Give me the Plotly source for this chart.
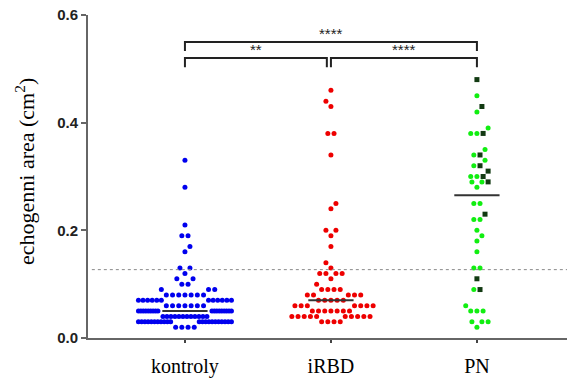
import numpy as np
import plotly.graph_objects as go

# ---------------- data ----------------
categories = ["kontroly", "iRBD", "PN"]

kontroly_levels = [0.02, 0.03, 0.04, 0.05, 0.06, 0.07, 0.08, 0.09, 0.10, 0.11,
                   0.12, 0.13, 0.16, 0.17, 0.19, 0.21, 0.28, 0.33]
kontroly_counts = [4, 22, 12, 18, 7, 12, 7, 3, 2, 2,
                   1, 2, 1, 1, 2, 1, 1, 1]

irbd_levels = [0.03, 0.04, 0.05, 0.06, 0.07, 0.08, 0.09, 0.10, 0.11, 0.12,
               0.13, 0.14, 0.17, 0.19, 0.20, 0.24, 0.25, 0.34, 0.38, 0.43,
               0.44, 0.46]
irbd_counts = [4, 10, 7, 7, 5, 5, 4, 1, 1, 4,
               1, 1, 1, 1, 2, 1, 1, 1, 2, 1,
               1, 1]

pn_light = [0.02, 0.03, 0.03, 0.03, 0.05, 0.05, 0.05, 0.06, 0.09, 0.13,
            0.13, 0.16, 0.18, 0.19, 0.20, 0.22, 0.22, 0.25, 0.25, 0.28,
            0.29, 0.29, 0.30, 0.30, 0.32, 0.33, 0.34, 0.35, 0.38, 0.38,
            0.39, 0.42, 0.45]
pn_dark = [0.09, 0.11, 0.23, 0.29, 0.30, 0.31, 0.32, 0.34, 0.38, 0.43, 0.48]

cutoff = 0.127
comparisons = [(0, 2, "****"), (0, 1, "**"), (1, 2, "****")]

y_ticks = [0.0, 0.2, 0.4, 0.6]
y_ticklabels = ["0.0", "0.2", "0.4", "0.6"]

# ---------------- layout constants ----------------
W, H = 569, 381
ML, MR, MT, MB = 88, 2, 15, 43
XR = [-0.664, 2.617]
YR = [0.0, 0.6]
px_per_x = (W - ML - MR) / (XR[1] - XR[0])

kontroly = np.repeat(kontroly_levels, kontroly_counts)
irbd = np.repeat(irbd_levels, irbd_counts)
pn_all = np.array(pn_light + pn_dark)


def swarm(values, step=0.01, dot=6.2, maxhalf=46.5, gap=5.0, dense=4.0):
    """GraphPad-like column scatter: rows alternate centred / split."""
    vals = np.round(np.asarray(values, dtype=float), 2)
    offs = np.zeros(len(vals))
    prev_lv, prev_mode, prev_half = None, None, 0.0
    for lv in sorted(set(vals)):
        idx = np.where(vals == lv)[0]
        n = len(idx)
        adjacent = prev_lv is not None and abs(lv - prev_lv - step) < 1e-6
        mode = "S" if (adjacent and prev_mode == "C") else "C"
        if mode == "C":
            s = dot if n <= 8 else dense
            if n > 1:
                s = min(s, 2 * maxhalf / (n - 1))
            pos = (np.arange(n) - (n - 1) / 2) * s
            half = (n - 1) / 2 * s
        else:
            inner = prev_half + gap
            if n == 1:
                sign = 1 if int(round(lv * 100)) % 2 else -1
                pos = np.array([sign * inner])
            else:
                nl = n // 2
                nr = n - nl

                def side(k):
                    s = dot
                    if k > 1:
                        s = min(dot, (maxhalf - inner) / (k - 1))
                    return inner + np.arange(k) * s
                pos = np.concatenate([-side(nl)[::-1], side(nr)])
            half = float(np.abs(pos).max())
        offs[idx] = pos
        prev_lv, prev_mode, prev_half = lv, mode, half
    return offs / px_per_x


fig = go.Figure()

# cutoff dotted line
fig.add_shape(type="line", xref="paper", yref="y", x0=0.008, x1=1.0,
              y0=cutoff, y1=cutoff,
              line=dict(color="#8a8a8a", width=1, dash="dot"))

k_off = swarm(kontroly)
r_off = swarm(irbd)
p_off = swarm(pn_all)
nl = len(pn_light)

fig.add_trace(go.Scatter(x=0 + k_off, y=kontroly, mode="markers",
                         marker=dict(color="#0000ee", size=5, line=dict(width=0)),
                         hoverinfo="y", showlegend=False))
fig.add_trace(go.Scatter(x=1 + r_off, y=irbd, mode="markers",
                         marker=dict(color="#ee0000", size=5, line=dict(width=0)),
                         hoverinfo="y", showlegend=False))
fig.add_trace(go.Scatter(x=2 + p_off[:nl], y=pn_all[:nl], mode="markers",
                         marker=dict(color="#11ee11", size=5, line=dict(width=0)),
                         hoverinfo="y", showlegend=False))
fig.add_trace(go.Scatter(x=2 + p_off[nl:], y=pn_all[nl:], mode="markers",
                         marker=dict(color="#123a12", size=5, symbol="square",
                                     line=dict(width=0)),
                         hoverinfo="y", showlegend=False))

# median lines
for i, grp in enumerate([kontroly, irbd, pn_all]):
    m = float(np.median(grp))
    fig.add_trace(go.Scatter(x=[i - 0.155, i + 0.155], y=[m, m], mode="lines",
                             line=dict(color="#333333", width=2),
                             hoverinfo="skip", showlegend=False))

# significance brackets
levels = [0.55, 0.52, 0.52]
tip = 0.017
for (a, b, stars), lvl in zip(comparisons, levels):
    x0 = a
    x1 = b - 0.028 if b == 1 else b
    fig.add_trace(go.Scatter(x=[x0, x0, x1, x1], y=[lvl - tip, lvl, lvl, lvl - tip],
                             mode="lines", line=dict(color="#222222", width=2),
                             hoverinfo="skip", showlegend=False))
    fig.add_annotation(x=(x0 + x1) / 2, y=lvl, xref="x", yref="y", text=stars,
                       showarrow=False, yanchor="bottom", yshift=-2,
                       font=dict(family="Liberation Sans", size=15, color="#222222"))

# y axis title
fig.add_annotation(xref="paper", yref="paper", x=(25 - ML) / (W - ML - MR),
                   y=(338 - 172) / (H - MT - MB), xanchor="center", yanchor="middle",
                   textangle=-90, showarrow=False,
                   text="echogenni area (cm<sup>2</sup>)",
                   font=dict(family="Liberation Serif", size=22, color="#000000"))

fig.update_layout(
    width=W, height=H,
    margin=dict(l=ML, r=MR, t=MT, b=MB, pad=0),
    paper_bgcolor="white", plot_bgcolor="white",
    xaxis=dict(range=XR, tickmode="array", tickvals=[0, 1, 2], ticktext=categories,
               showline=True, linecolor="#666666", linewidth=2,
               ticks="outside", ticklen=3, tickwidth=1.5, tickcolor="#444444",
               showgrid=False, zeroline=False, ticklabelstandoff=6, automargin=False,
               tickfont=dict(family="Liberation Serif", size=20, color="#000000")),
    yaxis=dict(range=YR, tickmode="array", tickvals=y_ticks, ticktext=y_ticklabels,
               showline=True, linecolor="#666666", linewidth=2,
               ticks="outside", ticklen=5, tickwidth=2, tickcolor="#666666",
               showgrid=False, zeroline=False, automargin=False,
               tickfont=dict(family="Liberation Sans", size=15, color="#222222",
                             weight="bold")),
)

fig.write_html("out.html", config={"displayModeBar": False},
               post_script="document.body.style.margin='0';"
                           "document.body.style.padding='0';")
